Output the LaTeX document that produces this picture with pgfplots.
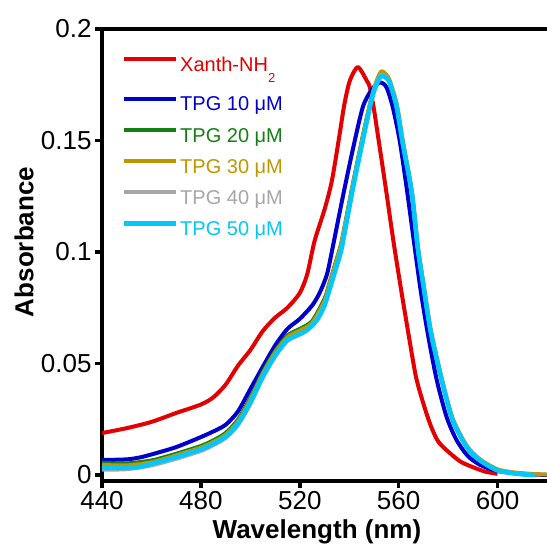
\documentclass[border=0pt]{standalone}
\usepackage{fontspec}
\setmainfont{Liberation Sans}
\usepackage{pgfplots}
\pgfplotsset{compat=1.18}

\definecolor{cRed}{RGB}{226,0,0}
\definecolor{cBlue}{RGB}{0,0,205}
\definecolor{cGreen}{RGB}{18,128,18}
\definecolor{cGold}{RGB}{190,150,0}
\definecolor{cGray}{RGB}{166,166,166}
\definecolor{cCyan}{RGB}{0,200,255}

\begin{document}
\begin{tikzpicture}
\begin{axis}[
    scale only axis,
    width=445pt, height=452pt,
    xmin=440, xmax=620,
    ymin=-0.0027, ymax=0.2,
    axis x line*=bottom, axis y line*=left,
    axis line style={-, line width=3.5pt},
    xtick={440,480,520,560,600},
    xticklabels={440,480,520,560,600},
    ytick={0,0.05,0.1,0.15,0.2},
    yticklabels={0,0.05,0.1,0.15,0.2},
    tick align=outside,
    major tick length=7pt,
    every tick/.style={black, line width=3.5pt},
    ticklabel style={font=\fontsize{26}{26}\selectfont},
    xlabel={Wavelength (nm)},
    ylabel={Absorbance},
    every axis x label/.style={at={(axis description cs:0.483,-0.112)}, anchor=center,
        font=\fontsize{26}{26}\selectfont\bfseries},
    every axis y label/.style={at={(axis description cs:-0.175,0.529)}, anchor=center, rotate=90,
        font=\fontsize{26}{26}\selectfont\bfseries},
    legend cell align=left,
    legend style={at={(axis description cs:0.045,0.938)}, anchor=north west,
        draw=none, fill=none, inner sep=0pt, row sep=12.8pt, column sep=1.5pt,
        font=\fontsize{20}{24}\selectfont,
        nodes={inner sep=0pt, text height=14.5pt, text depth=4pt}},
    legend image code/.code={\draw[#1] (0pt,7pt) -- (52pt,7pt);},
    every axis plot/.append style={line width=4pt, line join=round, mark=none, smooth, tension=0.45},
]

% Xanth-NH2 (its legend row is deeper, for the subscript)
\addplot[cRed, legend image code/.code={\draw[cRed, line width=4pt] (0pt,7pt) -- (52pt,7pt); \path (0pt,-15pt);}] coordinates {
(440,0.0188) (450,0.0210) (460,0.0238) (470,0.0278) (480,0.0316) (485,0.0348)
(490,0.0405) (495,0.0490) (500,0.0560) (505,0.0645) (510,0.0705) (515,0.0750)
(520,0.0816) (523,0.0900) (526,0.1050) (530,0.1190) (533,0.1320) (536,0.1520)
(538,0.1660) (540,0.1760) (542,0.1810) (543.5,0.1830) (545,0.1810) (547,0.1770)
(548.3,0.1740) (550,0.1640) (551.5,0.1530) (553,0.1420) (555,0.1270) (558,0.1040)
(561,0.0830) (564,0.0630) (567,0.0440) (570,0.0320) (573,0.0220) (576,0.0150)
(580,0.0105) (585,0.0060) (590,0.0035) (595,0.0015) (600,0.0005)
};
\addlegendentry{\color{cRed}Xanth-NH\raisebox{-11pt}{\fontsize{13}{13}\selectfont 2}}

% TPG 10 uM
\addplot[cBlue] coordinates {
(440,0.0067) (450,0.0070) (455,0.0078) (460,0.0092) (470,0.0125) (480,0.0170)
(485,0.0195) (490,0.0225) (495,0.0285) (500,0.0385) (505,0.0484) (510,0.0580)
(515,0.0655) (520,0.0700) (525,0.0760) (528,0.0816) (531,0.0900) (533.3,0.1020)
(537.4,0.1247) (541.4,0.1457) (545.5,0.1650) (549,0.1726) (552.3,0.1760)
(555,0.1740) (557.6,0.1650) (560.4,0.1500) (563.2,0.1290) (566.5,0.1020)
(569,0.0820) (572,0.0620) (575.4,0.0426) (579.4,0.0260) (583.4,0.0157)
(588,0.0085) (593,0.0045) (600,0.0018) (610,0.0005) (620,0.0000)
};
\addlegendentry{\color{cBlue}TPG 10 μM}

% TPG 20 uM
\addplot[cGreen] coordinates {
(440,0.0054) (450,0.0052) (460,0.0065) (470,0.0095) (480,0.0130) (485,0.0155)
(490,0.0188) (495,0.0248) (500,0.0345) (505,0.0460) (510,0.0555) (515,0.0625)
(520,0.0655) (525,0.0690) (530,0.0790) (532,0.0860) (535,0.0970) (537,0.1050)
(541.4,0.1300) (545.5,0.1520) (549,0.1690) (551,0.1760) (553,0.1800) (555,0.1785)
(556.4,0.1760) (559.2,0.1650) (561.6,0.1490) (565.3,0.1265) (567.7,0.1020)
(570,0.0850) (573,0.0640) (577.4,0.0426) (581.8,0.0250) (587.5,0.0128)
(592.7,0.0068) (599.6,0.0023) (605,0.0010) (610,0.0004) (615,0.0000)
};
\addlegendentry{\color{cGreen}TPG 20 μM}

% TPG 30 uM
\addplot[cGold] coordinates {
(440,0.0045) (450,0.0043) (460,0.0057) (470,0.0088) (480,0.0123) (485,0.0148)
(490,0.0180) (495,0.0240) (500,0.0337) (505,0.0452) (510,0.0548) (515,0.0618)
(520,0.0648) (525,0.0682) (530,0.0780) (532,0.0855) (535,0.0965) (537,0.1045)
(541.4,0.1295) (545.5,0.1515) (549,0.1690) (551,0.1765) (553,0.1810) (555,0.1795)
(556.4,0.1768) (559.2,0.1665) (561.6,0.1505) (565.3,0.1275) (567.7,0.1030)
(570,0.0860) (573,0.0650) (577.4,0.0435) (581.8,0.0255) (587.5,0.0132)
(592.7,0.0072) (599.6,0.0027) (605,0.0014) (610,0.0008) (615,0.0004) (620,0.0002)
};
\addlegendentry{\color{cGold}TPG 30 μM}

% TPG 40 uM
\addplot[cGray] coordinates {
(440,0.0024) (450,0.0026) (460,0.0043) (470,0.0073) (480,0.0108) (485,0.0134)
(490,0.0166) (495,0.0224) (500,0.0320) (505,0.0436) (510,0.0532) (515,0.0602)
(520,0.0630) (525,0.0670) (530,0.0765) (532,0.0835) (535,0.0945) (537,0.1025)
(541.4,0.1285) (545.5,0.1505) (549,0.1685) (551,0.1755) (553,0.1795) (555,0.1785)
(556.4,0.1760) (559.2,0.1655) (561.6,0.1495) (565.3,0.1268) (567.7,0.1022)
(570,0.0852) (573,0.0642) (577.4,0.0428) (581.8,0.0248) (587.5,0.0127)
(592.7,0.0067) (599.6,0.0022) (605,0.0010) (610,0.0003) (615,0.0000)
};
\addlegendentry{\color{cGray}TPG 40 μM}

% TPG 50 uM
\addplot[cCyan, line width=4.5pt] coordinates {
(440,0.0031) (450,0.0033) (455,0.0036) (460,0.0050) (470,0.0080) (480,0.0115)
(485,0.0140) (490,0.0172) (495,0.0230) (500,0.0325) (505,0.0440) (510,0.0535)
(515,0.0605) (520,0.0632) (523,0.0650) (527,0.0695) (530,0.0760) (532,0.0830)
(535,0.0940) (537,0.1020) (541.4,0.1280) (545.5,0.1500) (549,0.1680) (551,0.1750)
(553,0.1790) (555,0.1780) (556.4,0.1758) (559.2,0.1650) (561.6,0.1490)
(565.3,0.1265) (567.7,0.1020) (570,0.0850) (573,0.0640) (577.4,0.0426)
(581.8,0.0247) (587.5,0.0126) (592.7,0.0067) (599.6,0.0022) (605,0.0010)
(610,0.0003) (615,0.0000)
};
\addlegendentry{\color{cCyan}TPG 50 μM}

\end{axis}
\draw[line width=3.5pt] ([xshift=-1.75pt]current axis.north west) -- (current axis.north east);
\pgfresetboundingbox
\path[use as bounding box] ([shift={(-102pt,-70pt)}]current axis.south west)
    rectangle ([shift={(0pt,29pt)}]current axis.north east);
\end{tikzpicture}
\end{document}
